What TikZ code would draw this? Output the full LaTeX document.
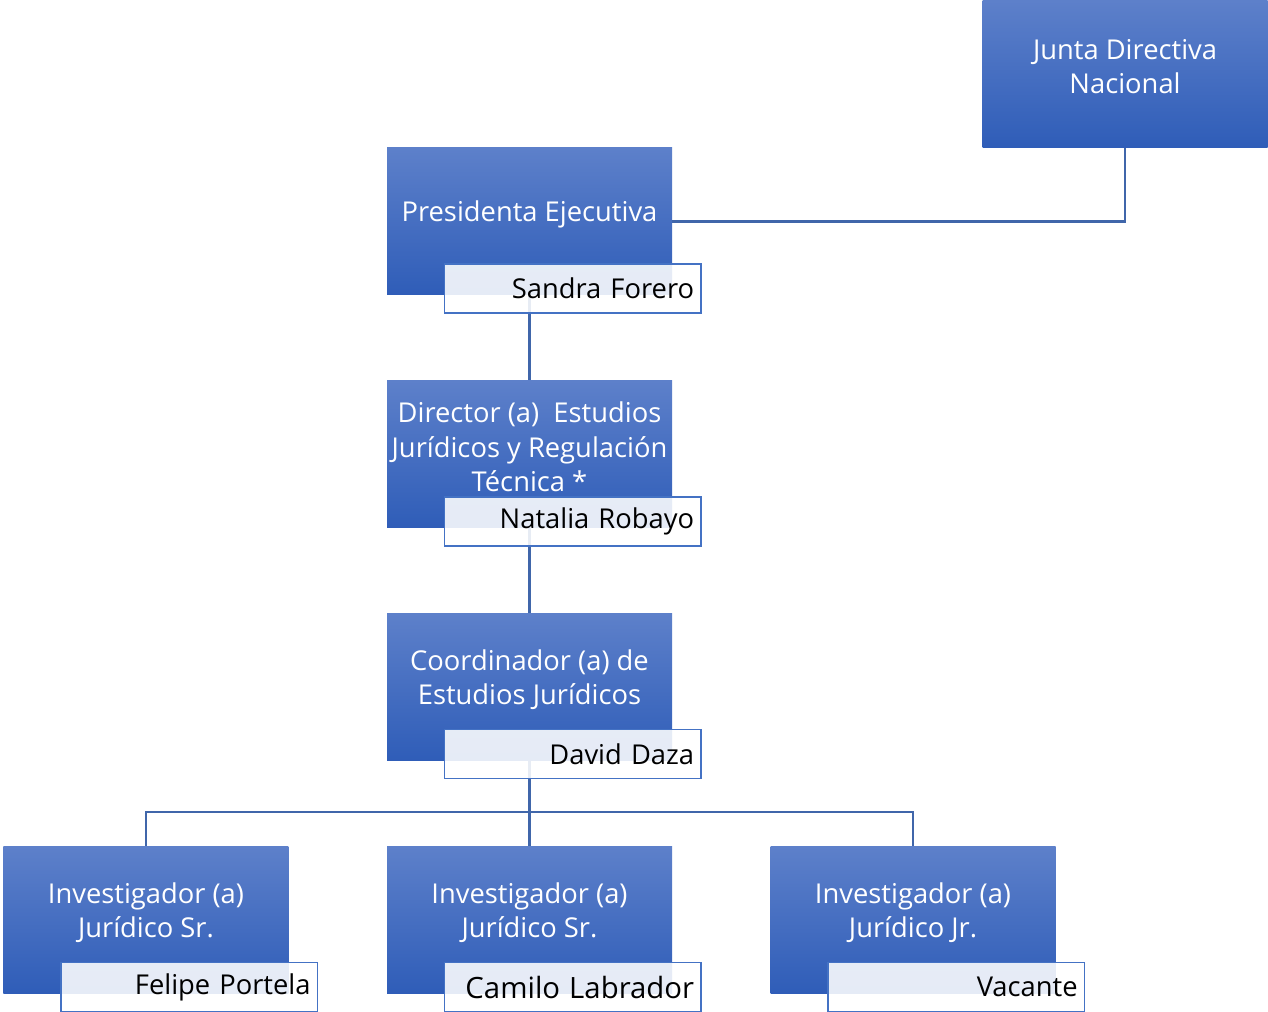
\documentclass[tikz,border=0pt]{standalone}
\usepackage{fontspec}
\setmainfont{Open Sans}
\usetikzlibrary{positioning,backgrounds}

\definecolor{roletop}{RGB}{93,128,202}
\definecolor{rolemid}{RGB}{60,109,203}
\definecolor{rolebot}{RGB}{47,93,184}
\definecolor{linkblue}{RGB}{64,102,170}
\definecolor{nameline}{RGB}{68,114,196}

\begin{document}
\begin{tikzpicture}[node distance=64pt and 73.5pt,
    rolebox/.style={rectangle,minimum width=213.75pt,minimum height=110.25pt,
      top color=roletop,middle color=rolemid,bottom color=rolebot,
      label={[roletext]center:#1}},
    roletext/.style={text=white,align=center,yshift=5.5pt,
      font=\fontsize{20.5pt}{25.9pt}\selectfont},
    personbox/.style={rectangle,draw=nameline,line width=1.1pt,fill=white,
      fill opacity=0.88,text opacity=1,anchor=north west,text width=182pt,
      inner xsep=5.25pt,minimum height=36.75pt,align=right,
      font=\fontsize{20.5pt}{25pt}\selectfont},
    link/.style={draw=linkblue,line width=1.6pt}]
  \useasboundingbox (0,0) rectangle (951pt,-759pt);

  \node[rolebox={Presidenta Ejecutiva}] (pres) at (397.125pt,-166.125pt) {};
  \node[rolebox={Junta Directiva\\Nacional}] (junta) [above right=0pt and 232.5pt of pres] {};
  \node[rolebox={Director (a)\ \ Estudios\\Jurídicos y Regulación\\Técnica *}] (dir) [below=of pres] {};
  \node[rolebox={Coordinador (a) de\\Estudios Jurídicos}] (coord) [below=of dir] {};
  \node[rolebox={Investigador (a)\\Jurídico Sr.}] (inv2) [below=of coord] {};
  \node[rolebox={Investigador (a)\\Jurídico Sr.}] (inv1) [left=of inv2] {};
  \node[rolebox={Investigador (a)\\Jurídico Jr.}] (inv3) [right=of inv2] {};

  % name tags
  \foreach \b/\n in {pres/Sandra Forero,dir/Natalia Robayo,coord/David Daza,
      inv1/Felipe Portela,inv2/{\fontsize{22pt}{26pt}\selectfont Camilo Labrador},
      inv3/Vacante}
    \node[personbox] (\b-name) at ([shift={(42.75pt,24pt)}]\b.south west) {\n};

  \coordinate[below=38.25pt of coord.south] (bus);
  \begin{scope}[on background layer]
    \draw[link] (pres.east) -| (junta.south);
    \draw[link] (pres) -- (dir);
    \draw[link] (dir) -- (coord);
    \draw[link] (coord) -- (inv2);
    \draw[link] (inv1.north) |- (bus) -| (inv3.north);
  \end{scope}
\end{tikzpicture}
\end{document}
